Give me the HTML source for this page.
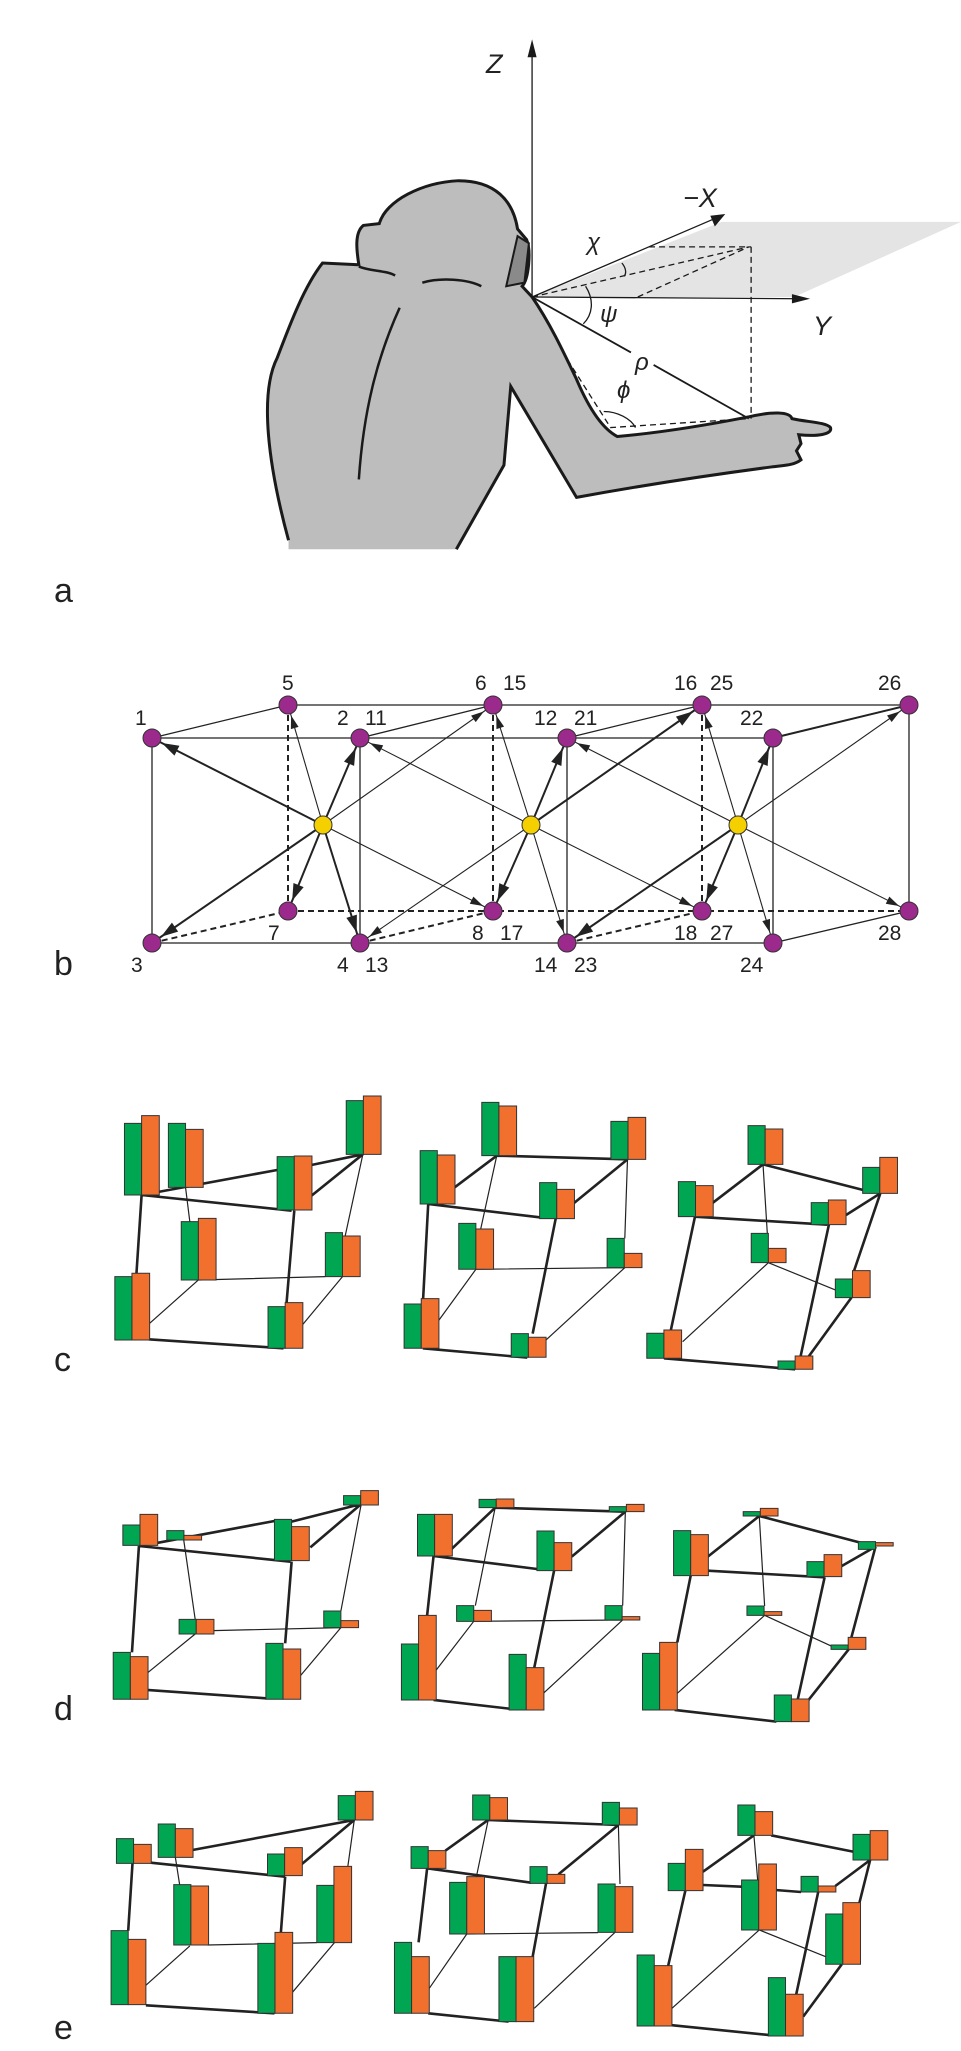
<!DOCTYPE html>
<html><head><meta charset="utf-8"><style>
html,body{margin:0;padding:0;background:#fff}
svg{display:block}
text{font-family:"Liberation Sans",sans-serif;fill:#222}
.ns{vector-effect:non-scaling-stroke}
</style></head><body>
<svg width="961" height="2051" viewBox="0 0 961 2051" xmlns="http://www.w3.org/2000/svg">
<defs>
<marker id="at" markerUnits="userSpaceOnUse" markerWidth="40" markerHeight="20" refX="24" refY="4" orient="auto" overflow="visible"><path d="M0,0 L13,4 L0,8 z" fill="#222"/></marker>
<marker id="aT" markerUnits="userSpaceOnUse" markerWidth="40" markerHeight="20" refX="28" refY="5.5" orient="auto" overflow="visible"><path d="M0,0 L17,5.5 L0,11 z" fill="#222"/></marker>
</defs>

<!-- Panel a -->
<g transform="translate(250,0) scale(0.4535,0.3578)">
<polygon points="622,830 1040,620 1568,620 1200,830" fill="#e4e4e4"/>
<path d="M85,1535 L85,1510 C40,1300 20,1100 60,1000 C90,900 120,800 160,735 L240,740 C235,700 230,650 250,630 L285,625 C300,560 380,510 460,505 C540,505 580,560 590,640 L610,670 C620,700 615,780 600,800 L622,830 C660,900 690,980 720,1060 C750,1150 780,1200 810,1220 C900,1210 1000,1190 1100,1165 C1150,1150 1190,1150 1195,1170 C1230,1180 1270,1180 1280,1195 C1285,1215 1250,1220 1210,1215 L1215,1240 L1205,1260 L1215,1285 C1200,1300 1180,1300 1150,1305 C1000,1330 850,1360 720,1390 L575,1080 L560,1300 L455,1535 Z" fill="#bdbdbd"/>
<path class="ns" d="M85,1510 C40,1300 20,1100 60,1000 C90,900 120,800 160,735 L240,740 C235,700 230,650 250,630 L285,625 C300,560 380,510 460,505 C540,505 580,560 590,640 L610,670 C620,700 615,780 600,800 L622,830 C660,900 690,980 720,1060 C750,1150 780,1200 810,1220 C900,1210 1000,1190 1100,1165 C1150,1150 1190,1150 1195,1170 C1230,1180 1270,1180 1280,1195 C1285,1215 1250,1220 1210,1215 L1215,1240 L1205,1260 L1215,1285 C1200,1300 1180,1300 1150,1305 C1000,1330 850,1360 720,1390 L575,1080 L560,1300 L455,1535" fill="none" stroke="#1a1a1a" stroke-width="3"/>
<path class="ns" d="M330,860 C280,1000 250,1150 240,1340 M240,745 C270,760 300,755 320,770 M380,790 C420,775 480,780 510,800" fill="none" stroke="#1a1a1a" stroke-width="2.5"/>
<path class="ns" d="M590,660 L615,680 L605,790 L565,800 Z" fill="#8a8a8a" stroke="#1a1a1a" stroke-width="2"/>
<g fill="none" stroke="#1a1a1a" class="ns">
<line class="ns" x1="622" y1="830" x2="622" y2="130" stroke-width="1.3"/>
<line class="ns" x1="622" y1="830" x2="1215" y2="835" stroke-width="1.3"/>
<line class="ns" x1="622" y1="830" x2="1030" y2="608" stroke-width="1.3"/>
<path class="ns" d="M880,690 L1105,690 M622,830 L1100,690 M855,830 L1100,690 M1105,690 L1105,1170 M700,1005 L795,1195 L1100,1170" stroke-width="1.3" stroke-dasharray="6,4"/>
<path class="ns" d="M622,830 L840,985 M890,1020 L1100,1170" stroke-width="1.8"/>
<path class="ns" d="M820,735 C830,750 830,765 825,772 M740,800 C760,840 755,880 735,905 M780,1150 C810,1150 840,1170 850,1195" stroke-width="1.3"/>
</g>
<polygon points="622,110 612,160 632,160" fill="#1a1a1a"/>
<polygon points="1235,835 1195,822 1195,848" fill="#1a1a1a"/>
<polygon points="1048,598 1015,603 1025,633" fill="#1a1a1a"/>
</g>
<g font-style="italic" font-size="27">
<text x="486" y="73">Z</text>
<text x="683" y="207">−X</text>
<text x="813" y="335">Y</text>
<text x="587" y="250" font-size="24">χ</text>
<text x="600" y="322" font-size="24">ψ</text>
<text x="635" y="370" font-size="24">ρ</text>
<text x="617" y="398" font-size="24">ϕ</text>
</g>

<!-- Panel labels -->
<g font-size="34">
<text x="54" y="602">a</text>
<text x="54" y="975">b</text>
<text x="54" y="1371">c</text>
<text x="54" y="1720">d</text>
<text x="54" y="2039">e</text>
</g>

<!-- Panel b -->
<g stroke="#222" fill="none">
<g stroke-width="1.3">
<line x1="152" y1="738" x2="288" y2="705"/>
<line x1="288" y1="705" x2="909" y2="705"/>
<line x1="152" y1="738" x2="773" y2="738"/>
<line x1="360" y1="738" x2="493" y2="705"/>
<line x1="567" y1="738" x2="702" y2="705"/>
<line x1="773" y1="738" x2="909" y2="705" stroke-width="2"/>
<line x1="152" y1="738" x2="152" y2="943"/>
<line x1="360" y1="738" x2="360" y2="943"/>
<line x1="567" y1="738" x2="567" y2="943"/>
<line x1="773" y1="738" x2="773" y2="943"/>
<line x1="909" y1="705" x2="909" y2="911"/>
<line x1="152" y1="943" x2="773" y2="943"/>
<line x1="773" y1="943" x2="909" y2="911"/>
</g>
<g stroke-width="2" stroke-dasharray="6,4">
<line x1="288" y1="705" x2="288" y2="911"/>
<line x1="493" y1="705" x2="493" y2="911"/>
<line x1="702" y1="705" x2="702" y2="911"/>
<line x1="288" y1="911" x2="909" y2="911"/>
<line x1="152" y1="943" x2="288" y2="911"/>
<line x1="360" y1="943" x2="493" y2="911"/>
<line x1="567" y1="943" x2="702" y2="911"/>
</g>
<g stroke-width="2" marker-end="url(#aT)">
<line x1="323" y1="825" x2="152" y2="738"/>
<line x1="323" y1="825" x2="360" y2="738"/>
<line x1="323" y1="825" x2="152" y2="943"/>
<line x1="323" y1="825" x2="288" y2="911"/>
<line x1="323" y1="825" x2="360" y2="943"/>
<line x1="531" y1="825" x2="567" y2="738"/>
<line x1="531" y1="825" x2="702" y2="705"/>
<line x1="531" y1="825" x2="493" y2="911"/>
<line x1="738" y1="825" x2="773" y2="738"/>
<line x1="738" y1="825" x2="567" y2="943"/>
<line x1="738" y1="825" x2="702" y2="911"/>
</g>
<g stroke-width="1.1" marker-end="url(#at)">
<line x1="323" y1="825" x2="288" y2="705"/>
<line x1="323" y1="825" x2="493" y2="705"/>
<line x1="323" y1="825" x2="493" y2="911"/>
<line x1="531" y1="825" x2="360" y2="738"/>
<line x1="531" y1="825" x2="493" y2="705"/>
<line x1="531" y1="825" x2="360" y2="943"/>
<line x1="531" y1="825" x2="567" y2="943"/>
<line x1="531" y1="825" x2="702" y2="911"/>
<line x1="738" y1="825" x2="567" y2="738"/>
<line x1="738" y1="825" x2="702" y2="705"/>
<line x1="738" y1="825" x2="909" y2="705"/>
<line x1="738" y1="825" x2="773" y2="943"/>
<line x1="738" y1="825" x2="909" y2="911"/>
</g>
</g>
<g fill="#9b2a8c" stroke="#333" stroke-width="1">
<circle cx="288" cy="705" r="9"/><circle cx="493" cy="705" r="9"/><circle cx="702" cy="705" r="9"/><circle cx="909" cy="705" r="9"/>
<circle cx="152" cy="738" r="9"/><circle cx="360" cy="738" r="9"/><circle cx="567" cy="738" r="9"/><circle cx="773" cy="738" r="9"/>
<circle cx="288" cy="911" r="9"/><circle cx="493" cy="911" r="9"/><circle cx="702" cy="911" r="9"/><circle cx="909" cy="911" r="9"/>
<circle cx="152" cy="943" r="9"/><circle cx="360" cy="943" r="9"/><circle cx="567" cy="943" r="9"/><circle cx="773" cy="943" r="9"/>
</g>
<g fill="#f5d000" stroke="#333" stroke-width="1">
<circle cx="323" cy="825" r="9"/><circle cx="531" cy="825" r="9"/><circle cx="738" cy="825" r="9"/>
</g>
<g font-size="21">
<text x="282" y="690">5</text><text x="475" y="690">6</text><text x="503" y="690">15</text><text x="674" y="690">16</text><text x="710" y="690">25</text><text x="878" y="690">26</text>
<text x="135" y="725">1</text><text x="337" y="725">2</text><text x="365" y="725">11</text><text x="534" y="725">12</text><text x="574" y="725">21</text><text x="740" y="725">22</text>
<text x="268" y="940">7</text><text x="472" y="940">8</text><text x="500" y="940">17</text><text x="674" y="940">18</text><text x="710" y="940">27</text><text x="878" y="940">28</text>
<text x="131" y="972">3</text><text x="337" y="972">4</text><text x="365" y="972">13</text><text x="534" y="972">14</text><text x="574" y="972">23</text><text x="740" y="972">24</text>
</g>

<!-- Panel c -->
<g transform="translate(80,1060) scale(0.5357,0.3333)">
<g fill="none" stroke="#222">
<path class="ns" stroke-width="2.6" d="M115,405 L368,330 M432,315 L528,283 M430,410 L528,283 M115,405 L395,452 M115,405 L105,650 M400,452 L385,740 M128,838 L380,865 M697,385 L778,287 M650,432 L858,472 M778,287 L1020,298 M920,432 L1022,298 M650,432 L640,732 M888,476 L845,821 M640,865 L835,893 M1180,430 L1275,313 M1275,313 L1462,390 M1148,470 L1395,494 M1430,465 L1494,400 M1148,470 L1103,810 M1398,494 L1345,890 M1494,400 L1445,632 M1440,713 L1360,890 M1090,895 L1335,928"/>
<path class="ns" stroke-width="1.2" d="M197,382 L205,485 M528,283 L495,528 M221,660 L458,650 M221,660 L130,790 M490,650 L415,795 M778,287 L748,507 M1022,298 L1017,535 M739,628 L1017,623 M739,628 L668,785 M1017,623 L870,840 M1275,313 L1283,520 M1285,608 L1410,690 M1285,608 L1125,845"/>
</g>
<g stroke="#333" stroke-width="1">
<g fill="#00a651">
<rect class="ns" x="83" y="190" width="32" height="215"/><rect class="ns" x="165" y="190" width="32" height="192"/><rect class="ns" x="368" y="290" width="32" height="160"/><rect class="ns" x="497" y="122" width="32" height="161"/><rect class="ns" x="189" y="485" width="32" height="175"/><rect class="ns" x="458" y="518" width="32" height="132"/><rect class="ns" x="65" y="650" width="32" height="190"/><rect class="ns" x="351" y="740" width="32" height="125"/>
<rect class="ns" x="635" y="272" width="32" height="160"/><rect class="ns" x="750" y="127" width="32" height="160"/><rect class="ns" x="991" y="184" width="32" height="114"/><rect class="ns" x="858" y="368" width="32" height="108"/><rect class="ns" x="707" y="490" width="32" height="138"/><rect class="ns" x="984" y="535" width="32" height="88"/><rect class="ns" x="605" y="732" width="32" height="133"/><rect class="ns" x="805" y="821" width="32" height="71"/>
<rect class="ns" x="1247" y="197" width="32" height="116"/><rect class="ns" x="1117" y="365" width="32" height="105"/><rect class="ns" x="1461" y="322" width="32" height="78"/><rect class="ns" x="1365" y="428" width="32" height="66"/><rect class="ns" x="1253" y="520" width="32" height="88"/><rect class="ns" x="1410" y="657" width="32" height="56"/><rect class="ns" x="1058" y="820" width="32" height="75"/><rect class="ns" x="1303" y="903" width="32" height="25"/>
</g>
<g fill="#f2702e">
<rect class="ns" x="115" y="167" width="33" height="238"/><rect class="ns" x="197" y="208" width="33" height="174"/><rect class="ns" x="400" y="288" width="33" height="162"/><rect class="ns" x="529" y="108" width="33" height="175"/><rect class="ns" x="221" y="475" width="33" height="185"/><rect class="ns" x="490" y="528" width="33" height="122"/><rect class="ns" x="97" y="640" width="33" height="200"/><rect class="ns" x="383" y="728" width="33" height="137"/>
<rect class="ns" x="667" y="285" width="33" height="147"/><rect class="ns" x="782" y="138" width="33" height="149"/><rect class="ns" x="1023" y="172" width="33" height="126"/><rect class="ns" x="890" y="388" width="33" height="88"/><rect class="ns" x="739" y="507" width="33" height="121"/><rect class="ns" x="1016" y="580" width="33" height="43"/><rect class="ns" x="637" y="716" width="33" height="149"/><rect class="ns" x="837" y="832" width="33" height="60"/>
<rect class="ns" x="1279" y="207" width="33" height="106"/><rect class="ns" x="1149" y="377" width="33" height="93"/><rect class="ns" x="1493" y="292" width="33" height="108"/><rect class="ns" x="1397" y="420" width="33" height="74"/><rect class="ns" x="1285" y="565" width="33" height="43"/><rect class="ns" x="1442" y="632" width="33" height="81"/><rect class="ns" x="1090" y="810" width="33" height="85"/><rect class="ns" x="1335" y="888" width="33" height="40"/>
</g>
</g>
</g>

<!-- Panel d -->
<g transform="translate(80,1460) scale(0.5357,0.3333)">
<g fill="none" stroke="#222">
<path class="ns" stroke-width="2.6" d="M110,258 L393,305 M140,250 L363,183 M430,262 L525,132 M395,185 L525,132 M110,258 L97,577 M395,305 L383,550 M125,690 L347,715 M775,143 L693,268 M775,143 L1018,155 M660,288 L853,327 M918,290 L1018,155 M660,288 L648,466 M885,332 L848,623 M660,720 L801,746 M1268,168 L1172,290 M1268,168 L1485,260 M1172,332 L1390,352 M1420,320 L1485,260 M1140,347 L1115,547 M1390,352 L1340,717 M1485,260 L1440,532 M1435,568 L1360,720 M1110,750 L1300,785"/>
<path class="ns" stroke-width="1.2" d="M192,222 L215,478 M525,132 L487,453 M248,512 L487,503 M215,522 L125,640 M487,503 L410,650 M775,143 L738,437 M1018,155 L1013,437 M735,484 L1013,480 M735,484 L665,630 M1013,480 L865,700 M1268,168 L1278,438 M1278,466 L1405,560 M1278,466 L1115,700"/>
</g>
<g stroke="#333" stroke-width="1">
<g fill="#00a651">
<rect class="ns" x="80" y="195" width="32" height="61"/><rect class="ns" x="162" y="212" width="32" height="28"/><rect class="ns" x="363" y="178" width="32" height="124"/><rect class="ns" x="492" y="107" width="32" height="28"/><rect class="ns" x="185" y="478" width="32" height="44"/><rect class="ns" x="455" y="453" width="32" height="50"/><rect class="ns" x="62" y="577" width="32" height="141"/><rect class="ns" x="347" y="550" width="32" height="168"/>
<rect class="ns" x="745" y="118" width="32" height="25"/><rect class="ns" x="988" y="140" width="32" height="15"/><rect class="ns" x="630" y="163" width="32" height="125"/><rect class="ns" x="853" y="213" width="32" height="119"/><rect class="ns" x="703" y="437" width="32" height="47"/><rect class="ns" x="980" y="437" width="32" height="43"/><rect class="ns" x="600" y="552" width="32" height="168"/><rect class="ns" x="801" y="583" width="32" height="167"/>
<rect class="ns" x="1238" y="155" width="32" height="13"/><rect class="ns" x="1453" y="245" width="32" height="23"/><rect class="ns" x="1108" y="212" width="32" height="135"/><rect class="ns" x="1357" y="305" width="32" height="45"/><rect class="ns" x="1245" y="438" width="32" height="28"/><rect class="ns" x="1402" y="555" width="32" height="13"/><rect class="ns" x="1050" y="580" width="32" height="170"/><rect class="ns" x="1296" y="705" width="32" height="80"/>
</g>
<g fill="#f2702e">
<rect class="ns" x="112" y="163" width="33" height="93"/><rect class="ns" x="194" y="226" width="33" height="14"/><rect class="ns" x="395" y="200" width="33" height="102"/><rect class="ns" x="524" y="92" width="33" height="43"/><rect class="ns" x="217" y="478" width="33" height="44"/><rect class="ns" x="487" y="482" width="33" height="21"/><rect class="ns" x="94" y="590" width="33" height="128"/><rect class="ns" x="379" y="567" width="33" height="151"/>
<rect class="ns" x="777" y="117" width="33" height="26"/><rect class="ns" x="1020" y="133" width="33" height="22"/><rect class="ns" x="662" y="163" width="33" height="125"/><rect class="ns" x="885" y="248" width="33" height="84"/><rect class="ns" x="735" y="451" width="33" height="33"/><rect class="ns" x="1012" y="470" width="33" height="10"/><rect class="ns" x="632" y="466" width="33" height="254"/><rect class="ns" x="833" y="623" width="33" height="127"/>
<rect class="ns" x="1270" y="145" width="33" height="23"/><rect class="ns" x="1485" y="248" width="33" height="10"/><rect class="ns" x="1140" y="224" width="33" height="123"/><rect class="ns" x="1389" y="284" width="33" height="66"/><rect class="ns" x="1277" y="455" width="33" height="11"/><rect class="ns" x="1434" y="532" width="33" height="36"/><rect class="ns" x="1082" y="547" width="33" height="203"/><rect class="ns" x="1328" y="717" width="33" height="68"/>
</g>
</g>
</g>

<!-- Panel e -->
<g transform="translate(80,1750) scale(0.5357,0.3333)">
<g fill="none" stroke="#222">
<path class="ns" stroke-width="2.6" d="M132,338 L383,380 M210,300 L512,210 M412,345 L512,210 M98,340 L90,542 M383,380 L375,547 M123,766 L363,790 M762,210 L682,302 M762,210 L1005,225 M648,355 L842,398 M893,373 L1005,225 M648,355 L632,577 M870,400 L845,620 M650,790 L800,815 M1258,256 L1163,365 M1290,256 L1443,305 M1163,405 L1235,410 M1298,420 L1346,426 M1410,408 L1475,330 M1130,422 L1098,647 M1378,426 L1337,733 M1475,330 L1455,458 M1422,643 L1350,800 M1100,825 L1285,855"/>
<path class="ns" stroke-width="1.2" d="M178,322 L186,404 M512,210 L500,349 M238,585 L442,578 M205,588 L120,710 M475,578 L395,730 M762,210 L740,380 M1005,225 L1008,402 M722,552 L967,548 M722,552 L652,715 M998,548 L848,775 M1258,256 L1265,390 M1268,540 L1392,620 M1268,540 L1105,775"/>
</g>
<g stroke="#333" stroke-width="1">
<g fill="#00a651">
<rect class="ns" x="68" y="266" width="32" height="74"/><rect class="ns" x="146" y="222" width="32" height="100"/><rect class="ns" x="350" y="312" width="32" height="65"/><rect class="ns" x="482" y="137" width="32" height="73"/><rect class="ns" x="175" y="404" width="32" height="181"/><rect class="ns" x="442" y="406" width="32" height="172"/><rect class="ns" x="58" y="542" width="32" height="222"/><rect class="ns" x="332" y="580" width="32" height="210"/>
<rect class="ns" x="733" y="135" width="32" height="75"/><rect class="ns" x="975" y="157" width="32" height="68"/><rect class="ns" x="618" y="290" width="32" height="65"/><rect class="ns" x="840" y="350" width="32" height="50"/><rect class="ns" x="690" y="397" width="32" height="155"/><rect class="ns" x="967" y="402" width="32" height="145"/><rect class="ns" x="587" y="577" width="32" height="213"/><rect class="ns" x="782" y="620" width="32" height="195"/>
<rect class="ns" x="1228" y="165" width="32" height="91"/><rect class="ns" x="1443" y="253" width="32" height="77"/><rect class="ns" x="1098" y="340" width="32" height="82"/><rect class="ns" x="1346" y="379" width="32" height="47"/><rect class="ns" x="1235" y="390" width="32" height="150"/><rect class="ns" x="1392" y="492" width="32" height="151"/><rect class="ns" x="1040" y="615" width="32" height="213"/><rect class="ns" x="1285" y="683" width="32" height="175"/>
</g>
<g fill="#f2702e">
<rect class="ns" x="100" y="283" width="33" height="57"/><rect class="ns" x="178" y="236" width="33" height="86"/><rect class="ns" x="382" y="293" width="33" height="84"/><rect class="ns" x="514" y="124" width="33" height="86"/><rect class="ns" x="207" y="408" width="33" height="177"/><rect class="ns" x="474" y="349" width="33" height="229"/><rect class="ns" x="90" y="568" width="33" height="196"/><rect class="ns" x="364" y="547" width="33" height="243"/>
<rect class="ns" x="765" y="143" width="33" height="67"/><rect class="ns" x="1007" y="174" width="33" height="51"/><rect class="ns" x="650" y="302" width="33" height="53"/><rect class="ns" x="872" y="373" width="33" height="27"/><rect class="ns" x="722" y="380" width="33" height="172"/><rect class="ns" x="999" y="410" width="33" height="137"/><rect class="ns" x="619" y="620" width="33" height="170"/><rect class="ns" x="814" y="620" width="33" height="195"/>
<rect class="ns" x="1260" y="185" width="33" height="71"/><rect class="ns" x="1475" y="242" width="33" height="88"/><rect class="ns" x="1130" y="298" width="33" height="124"/><rect class="ns" x="1378" y="408" width="33" height="18"/><rect class="ns" x="1267" y="342" width="33" height="198"/><rect class="ns" x="1424" y="458" width="33" height="185"/><rect class="ns" x="1072" y="647" width="33" height="181"/><rect class="ns" x="1317" y="733" width="33" height="125"/>
</g>
</g>
</g>
</svg>
</body></html>
